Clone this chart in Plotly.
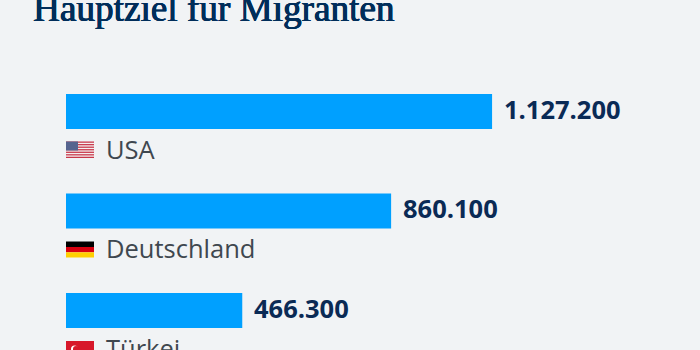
import plotly.graph_objects as go

title = "Hauptziel für Migranten"
countries = ["USA", "Deutschland", "Türkei"]
values = [1127200, 860100, 466300]
value_labels = ["1.127.200", "860.100", "466.300"]

NAVY = "#002d5a"
BLUE = "#00a0ff"
BG = "#f1f3f5"
GREY = "#3f474f"

fig = go.Figure(go.Bar(x=values, y=countries, orientation="h", width=0.352,
                       marker=dict(color=BLUE, line=dict(width=0)), hoverinfo="skip"))

annotations = [dict(text=title, xref="paper", yref="paper", x=0, y=1, xshift=-35, yshift=-31,
                    xanchor="left", yanchor="bottom", showarrow=False,
                    font=dict(family="Liberation Serif", size=37.2, color=NAVY,
                              shadow=f"0.6px 0 0 {NAVY}, -0.3px 0 0 {NAVY}, 0 0.3px 0 {NAVY}"))]
for c, v, l in zip(countries, values, value_labels):
    annotations.append(dict(text=f"<b>{l}</b>", x=v, y=c, xanchor="left", yanchor="middle", xshift=10, yshift=3,
                            showarrow=False, font=dict(family="Open Sans", size=25.5, color="#0a2a55")))
    annotations.append(dict(text=c, x=0, y=c, xanchor="left", yanchor="middle", xshift=38, yshift=-37,
                            showarrow=False, font=dict(family="Open Sans", size=25.5, color=GREY)))

def flag_rect(cat, y0, y1, color, x0=0, x1=28):
    """Rectangle in pixels relative to the category's bar centre (positive y = downward)."""
    return dict(type="rect", xref="x", yref="y", xsizemode="pixel", ysizemode="pixel",
                xanchor=0, yanchor=cat, x0=x0, x1=x1, y0=-y0, y1=-y1,
                fillcolor=color, line=dict(width=0), layer="above")

shapes = []
# USA flag: stripes and canton
shapes.append(flag_rect("USA", 30, 46.5, "#f4f0f0"))
for i in range(0, 13, 2):
    top = 30 + i * 16.5 / 13
    shapes.append(flag_rect("USA", top, top + 16.5 / 13, "#c8374a"))
shapes.append(flag_rect("USA", 30, 39, "#56648f", x1=12))
# German flag
shapes.append(flag_rect("Deutschland", 30.5, 36, "#000000"))
shapes.append(flag_rect("Deutschland", 36, 41.3, "#d8000f"))
shapes.append(flag_rect("Deutschland", 41.3, 46.5, "#ffce00"))
# Turkish flag
shapes.append(flag_rect("Türkei", 30.5, 47, "#d7182a"))
shapes.append(dict(type="circle", xref="x", yref="y", xsizemode="pixel", ysizemode="pixel",
                   xanchor=0, yanchor="Türkei", x0=5, x1=12, y0=-35, y1=-42,
                   fillcolor="#ffffff", line=dict(width=0), layer="above"))
shapes.append(dict(type="circle", xref="x", yref="y", xsizemode="pixel", ysizemode="pixel",
                   xanchor=0, yanchor="Türkei", x0=7, x1=13, y0=-35.5, y1=-41.5,
                   fillcolor="#d7182a", line=dict(width=0), layer="above"))

fig.update_layout(
    width=700, height=350, autosize=False,
    margin=dict(l=66, r=0, t=0, b=0),
    paper_bgcolor=BG, plot_bgcolor=BG, showlegend=False,
    xaxis=dict(range=[0, 634 / 0.000378], visible=False, fixedrange=True),
    yaxis=dict(type="category", categoryorder="array", categoryarray=countries,
               range=[2.397, -1.1206], visible=False, fixedrange=True),
    annotations=annotations, shapes=shapes,
)
fig.write_html("out.html", config={"displayModeBar": False},
               post_script="document.body.style.margin='0';document.body.style.overflow='hidden';document.body.style.background='#f1f3f5';")
